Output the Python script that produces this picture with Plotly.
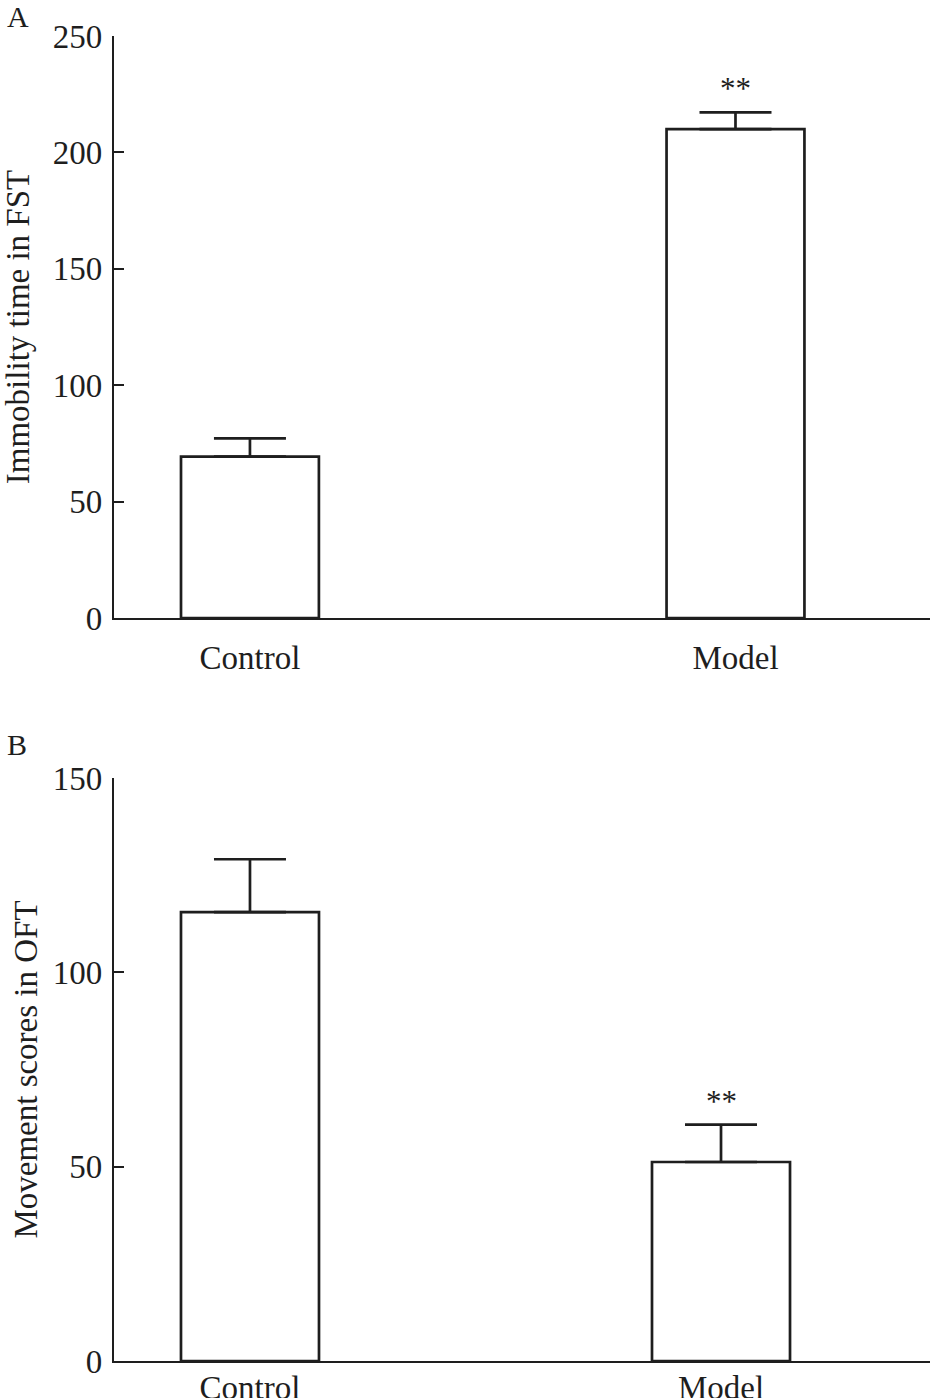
import plotly.graph_objects as go

groups = ["Control", "Model"]
fst_mean = [69.3, 210.0]
fst_err = [7.9, 7.2]
fst_sig = ["", "**"]
oft_mean = [115.5, 51.2]
oft_err = [13.6, 9.6]
oft_sig = ["", "**"]
fst_ticks = [0, 50, 100, 150, 200, 250]
oft_ticks = [0, 50, 100, 150]

W, H = 930, 1398
FONT = "Liberation Serif"
INK = "#1e1e1e"

fig = go.Figure()

def add_panel(mean, err, xa, ya, width):
    fig.add_trace(go.Bar(
        x=groups, y=mean, width=width, xaxis=xa, yaxis=ya,
        marker=dict(color="white", line=dict(color=INK, width=2.7)),
        error_y=dict(type="data", symmetric=False, array=err, arrayminus=[0] * len(err),
                     color=INK, thickness=2.7, width=36),
        showlegend=False, hoverinfo="skip",
    ))

add_panel(fst_mean, fst_err, "x", "y", 0.284)
add_panel(oft_mean, oft_err, "x2", "y2", 0.293)

axfont = dict(family=FONT, size=33, color=INK)

def yax(domain, rng, ticks, title, standoff):
    return dict(domain=domain, range=rng, tickvals=ticks, ticks="inside", ticklen=10,
                tickwidth=2, tickcolor=INK, showline=True, linecolor=INK, linewidth=2.2,
                showgrid=False, zeroline=False, tickfont=axfont, ticklabelstandoff=3,
                automargin=False,
                title=dict(text=title, font=axfont, standoff=standoff), fixedrange=True)

def xax(anchor, rng, standoff):
    return dict(domain=[114 / W, 1.0], anchor=anchor, range=rng, type="category",
                showline=True, linecolor=INK, linewidth=2.2, ticks="", showgrid=False,
                zeroline=False, tickfont=axfont, ticklabelstandoff=standoff, automargin=False,
                fixedrange=True)

fig.update_layout(
    template="none",
    width=W, height=H, margin=dict(l=0, r=0, t=0, b=0, pad=0, autoexpand=False),
    paper_bgcolor="white", plot_bgcolor="white",
    font=dict(family=FONT, color=INK),
    xaxis=xax("y", [-0.280, 1.4006], 9),
    yaxis=yax([(H - 618) / H, (H - 36) / H], [0, 250], fst_ticks, "Immobility time in FST", 14),
    xaxis2=xax("y2", [-0.2887, 1.4437], -4),
    yaxis2=yax([(H - 1361) / H, (H - 778) / H], [0, 150], oft_ticks, "Movement scores in OFT", 5),
    bargap=0,
)

ann = []
for g, m, e, s in zip(groups, fst_mean, fst_err, fst_sig):
    if s:
        ann.append(dict(x=g, y=m + e, xref="x", yref="y", text=s, showarrow=False,
                        yanchor="bottom", yshift=4, font=dict(family=FONT, size=31, color=INK)))
for g, m, e, s in zip(groups, oft_mean, oft_err, oft_sig):
    if s:
        ann.append(dict(x=g, y=m + e, xref="x2", yref="y2", text=s, showarrow=False,
                        yanchor="bottom", yshift=4, font=dict(family=FONT, size=31, color=INK)))
ann.append(dict(x=18 / W, y=1 - 17 / H, xref="paper", yref="paper", text="A", showarrow=False,
                xanchor="center", yanchor="middle", font=dict(family=FONT, size=30, color=INK)))
ann.append(dict(x=17 / W, y=1 - 744 / H, xref="paper", yref="paper", text="B", showarrow=False,
                xanchor="center", yanchor="middle", font=dict(family=FONT, size=30, color=INK)))
fig.update_layout(annotations=ann)

fig.write_html("out.html", config={"displayModeBar": False, "staticPlot": True},
               post_script="document.body.style.margin='0';document.body.style.overflow='hidden';")
